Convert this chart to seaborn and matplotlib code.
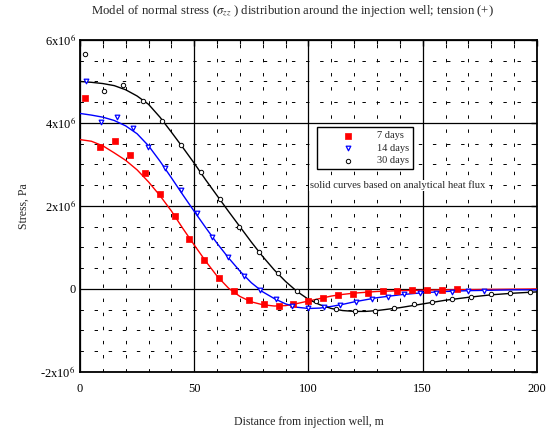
import matplotlib

matplotlib.use("Agg")

import matplotlib.pyplot as plt
import numpy as np
import pandas as pd
import seaborn as sns
from matplotlib.ticker import FixedLocator, MultipleLocator

# measured points (x in m, stress in MPa)
days7_x = [2.3, 8.8, 15.3, 21.9, 28.4, 34.9, 41.4, 47.9, 54.4, 60.9, 67.4, 73.9, 80.4,
           86.9, 93.4, 99.9, 106.4, 112.9, 119.4, 125.9, 132.4, 138.9, 145.4, 151.9, 158.4, 164.9]
days7_y = [4.60, 3.42, 3.57, 3.23, 2.80, 2.29, 1.76, 1.20, 0.70, 0.27, -0.05, -0.27, -0.36,
           -0.40, -0.36, -0.29, -0.22, -0.14, -0.12, -0.09, -0.05, -0.05, -0.03, -0.03, -0.02, -0.01]

days14_x = [2.6, 9.2, 16.2, 23.2, 29.8, 37.2, 44.2, 51.2, 57.8, 64.8, 71.8, 78.8, 85.8,
            92.8, 99.8, 106.8, 113.8, 120.8, 127.8, 134.8, 141.8, 148.8, 155.8, 162.8, 169.8, 176.8]
days14_y = [5.01, 4.02, 4.14, 3.88, 3.42, 2.92, 2.39, 1.83, 1.25, 0.77, 0.31, -0.02, -0.24,
            -0.41, -0.46, -0.43, -0.38, -0.31, -0.24, -0.19, -0.12, -0.09, -0.09, -0.07, -0.05, -0.04]

days30_x = [2.2, 10.5, 19.0, 27.6, 35.9, 44.2, 52.9, 61.3, 69.6, 78.3, 86.7, 95.0, 103.3,
            112.0, 120.4, 129.0, 137.4, 146.0, 154.0, 163.0, 171.0, 180.0, 188.0, 197.0]
days30_y = [5.66, 4.77, 4.92, 4.53, 4.05, 3.48, 2.82, 2.17, 1.50, 0.89, 0.39, -0.04, -0.29,
            -0.48, -0.53, -0.53, -0.46, -0.37, -0.32, -0.24, -0.19, -0.12, -0.10, -0.07]

# analytical curves
curve7_x = [0, 5, 10, 15, 20, 25, 30, 35, 40, 45, 50, 55, 60, 65, 70, 75, 80, 85, 90, 95,
            100, 105, 110, 115, 120, 130, 140, 150, 160, 180, 200]
curve7_y = [3.60, 3.56, 3.45, 3.28, 3.10, 2.87, 2.58, 2.25, 1.88, 1.46, 1.06, 0.67, 0.31,
            0.02, -0.18, -0.31, -0.38, -0.41, -0.40, -0.35, -0.29, -0.23, -0.17, -0.13,
            -0.10, -0.06, -0.04, -0.03, -0.02, -0.01, 0.0]

curve14_x = [0, 5, 10, 15, 20, 25, 30, 35, 40, 45, 50, 55, 60, 65, 70, 75, 80, 85, 90, 95,
             100, 105, 110, 115, 120, 125, 130, 140, 150, 160, 170, 180, 190, 200]
curve14_y = [4.23, 4.19, 4.14, 4.06, 3.93, 3.74, 3.45, 3.08, 2.68, 2.27, 1.87, 1.48, 1.10,
             0.75, 0.43, 0.15, -0.07, -0.23, -0.36, -0.44, -0.47, -0.46, -0.42, -0.37,
             -0.31, -0.26, -0.21, -0.14, -0.09, -0.06, -0.04, -0.03, -0.02, -0.02]

curve30_x = [0, 5, 10, 15, 20, 25, 30, 35, 40, 45, 50, 55, 60, 65, 70, 75, 80, 85, 90, 95,
             100, 105, 110, 115, 120, 125, 130, 140, 150, 160, 170, 180, 190, 200]
curve30_y = [5.00, 4.98, 4.95, 4.90, 4.80, 4.65, 4.45, 4.14, 3.78, 3.41, 3.03, 2.63, 2.25,
             1.87, 1.50, 1.13, 0.78, 0.46, 0.18, -0.06, -0.25, -0.38, -0.47, -0.52, -0.54,
             -0.54, -0.52, -0.45, -0.36, -0.27, -0.20, -0.14, -0.10, -0.07]

y_ticks = [-2e6, 0, 2e6, 4e6, 6e6]
y_tick_labels = [r"-2x10$^6$", "0", r"2x10$^6$", r"4x10$^6$", r"6x10$^6$"]
x_ticks = [0, 50, 100, 150, 200]

sns.set_theme(style="white")
plt.rcParams["font.family"] = ["Liberation Serif", "DejaVu Serif"]
plt.rcParams["mathtext.fontset"] = "stix"

fig = plt.figure(figsize=(5.57, 4.36), dpi=100)
ax = fig.add_axes([0.1436, 0.1468, 0.8205, 0.7615])

MPA = 1e6
curves = [
    (curve7_x, curve7_y, "red"),
    (curve14_x, curve14_y, "blue"),
    (curve30_x, curve30_y, "black"),
]
for cx, cy, col in curves:
    df = pd.DataFrame({"x": cx, "y": np.array(cy) * MPA})
    sns.lineplot(data=df, x="x", y="y", color=col, lw=1.0, ax=ax, zorder=3)

pts = pd.DataFrame({"x": days7_x, "y": np.array(days7_y) * MPA})
sns.scatterplot(data=pts, x="x", y="y", marker="s", s=14, color="red",
                edgecolor="red", linewidth=0.5, label="7 days", ax=ax, zorder=4)
pts = pd.DataFrame({"x": days14_x, "y": np.array(days14_y) * MPA})
sns.scatterplot(data=pts, x="x", y="y", marker="v", s=11, facecolor="white",
                edgecolor="blue", linewidth=0.9, label="14 days", ax=ax, zorder=4)
pts = pd.DataFrame({"x": days30_x, "y": np.array(days30_y) * MPA})
sns.scatterplot(data=pts, x="x", y="y", marker="o", s=10, facecolor="white",
                edgecolor="black", linewidth=0.7, label="30 days", ax=ax, zorder=4)

ax.set_xlim(0, 200)
ax.set_ylim(-2e6, 6e6)
ax.xaxis.set_major_locator(FixedLocator(x_ticks))
ax.xaxis.set_minor_locator(MultipleLocator(10))
ax.yaxis.set_major_locator(FixedLocator(y_ticks))
ax.yaxis.set_minor_locator(MultipleLocator(0.5e6))
ax.set_yticklabels(y_tick_labels)

ax.grid(which="major", color="black", lw=0.9, ls="-")
ax.grid(which="minor", color="black", lw=0.7, ls=(0, (3.5, 11)))
ax.set_axisbelow(True)

for sp in ax.spines.values():
    sp.set_visible(True)
    sp.set_color("black")
    sp.set_linewidth(1.3)

ax.tick_params(which="both", direction="in", top=True, right=True, colors="black",
               labelsize=9)
ax.tick_params(which="major", length=4, width=1.0)
ax.tick_params(which="minor", length=3, width=0.8)
ax.tick_params(axis="x", pad=8)
ax.tick_params(axis="y", pad=3)

ax.set_xlabel("Distance from injection well, m", fontsize=8.5, labelpad=15)
ax.set_ylabel("Stress, Pa", fontsize=8.5, labelpad=8)

fig.text(0.525, 0.975, r"Model of normal stress ($\sigma_{zz}$ ) distribution around the injection well; tension (+)",
         ha="center", va="center", fontsize=9.2)

ax.text(100.7, 2.5e6, "solid curves based on analytical heat flux", ha="left",
        va="center", fontsize=7.7,
        bbox=dict(facecolor="white", edgecolor="none", pad=0.5), zorder=5)

leg = ax.legend(loc="upper left", bbox_to_anchor=(0.519, 0.738), borderaxespad=0,
                handlelength=5.1, handletextpad=0.2, borderpad=0.4, labelspacing=0.3,
                fontsize=7.5, fancybox=False, framealpha=1, edgecolor="black",
                scatterpoints=1)
leg.get_frame().set_linewidth(1.0)
leg.set_zorder(6)

fig.savefig("out.png", dpi=100)
